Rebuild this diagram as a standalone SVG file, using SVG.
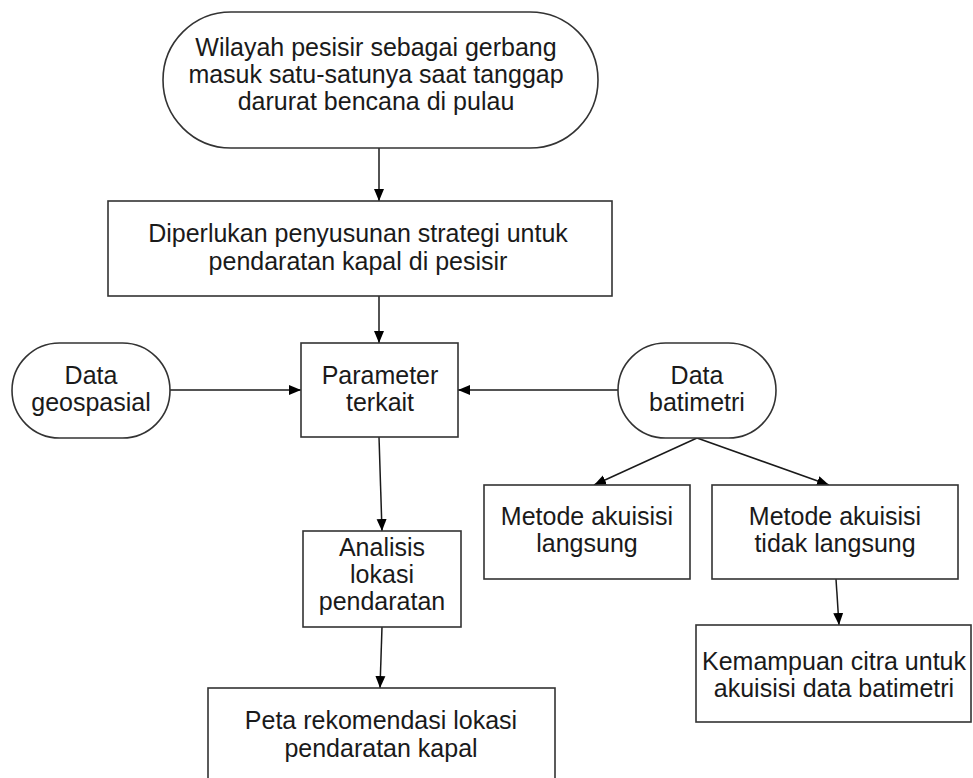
<svg xmlns="http://www.w3.org/2000/svg" width="973" height="778" viewBox="0 0 973 778">
<style>
.box{fill:#fff;stroke:#333;stroke-width:1.6}
.t{font-family:"Liberation Sans",Arial,sans-serif;font-size:25px;fill:#1a1a1a;text-anchor:middle}
.c{stroke:#1a1a1a;stroke-width:1.5;fill:none;marker-end:url(#ah)}
</style>
<defs>
<marker id="ah" viewBox="0 0 12 10" refX="12" refY="5" markerWidth="12" markerHeight="11" markerUnits="userSpaceOnUse" orient="auto">
<path d="M0,0 L12,5 L0,10 Z" fill="#000"/>
</marker>
</defs>
<rect width="973" height="778" fill="#fff"/>
<g id="connectors">
<line class="c" x1="379" y1="148" x2="379" y2="201"/>
<line class="c" x1="379" y1="296" x2="379" y2="343"/>
<line class="c" x1="170" y1="390" x2="301" y2="390"/>
<line class="c" x1="618" y1="390" x2="458" y2="390"/>
<line class="c" x1="697" y1="438" x2="594" y2="485"/>
<line class="c" x1="697" y1="438" x2="829" y2="485"/>
<line class="c" x1="836" y1="579" x2="839" y2="625"/>
<line class="c" x1="379" y1="437" x2="382" y2="531"/>
<line class="c" x1="382" y1="627" x2="380" y2="688"/>
</g>
<g id="n1">
<rect class="box" x="163" y="12" width="435" height="136" rx="68" ry="68"/>
<text class="t" x="376" y="56">Wilayah pesisir sebagai gerbang</text>
<text class="t" x="376" y="83">masuk satu-satunya saat tanggap</text>
<text class="t" x="376" y="110">darurat bencana di pulau</text>
</g>
<g id="n2">
<rect class="box" x="108" y="201" width="504" height="95"/>
<text class="t" x="358" y="242">Diperlukan penyusunan strategi untuk</text>
<text class="t" x="358" y="270">pendaratan kapal di pesisir</text>
</g>
<g id="n3">
<rect class="box" x="12" y="343" width="158" height="95" rx="47.5" ry="47.5"/>
<text class="t" x="91" y="384">Data</text>
<text class="t" x="91" y="411">geospasial</text>
</g>
<g id="n4">
<rect class="box" x="301" y="343" width="157" height="94"/>
<text class="t" x="380" y="384">Parameter</text>
<text class="t" x="380" y="411">terkait</text>
</g>
<g id="n5">
<rect class="box" x="618" y="343" width="158" height="95" rx="47.5" ry="47.5"/>
<text class="t" x="697" y="384">Data</text>
<text class="t" x="697" y="411">batimetri</text>
</g>
<g id="n6">
<rect class="box" x="484" y="485" width="206" height="94"/>
<text class="t" x="587" y="525">Metode akuisisi</text>
<text class="t" x="587" y="552">langsung</text>
</g>
<g id="n7">
<rect class="box" x="712" y="485" width="246" height="94"/>
<text class="t" x="835" y="525">Metode akuisisi</text>
<text class="t" x="835" y="552">tidak langsung</text>
</g>
<g id="n8">
<rect class="box" x="303" y="531" width="158" height="96"/>
<text class="t" x="382" y="556">Analisis</text>
<text class="t" x="382" y="583">lokasi</text>
<text class="t" x="382" y="610">pendaratan</text>
</g>
<g id="n9">
<rect class="box" x="696" y="625" width="275" height="97"/>
<text class="t" x="834" y="670">Kemampuan citra untuk</text>
<text class="t" x="834" y="697">akuisisi data batimetri</text>
</g>
<g id="n10">
<rect class="box" x="208" y="688" width="347" height="120"/>
<text class="t" x="381" y="729">Peta rekomendasi lokasi</text>
<text class="t" x="381" y="757">pendaratan kapal</text>
</g>
</svg>
